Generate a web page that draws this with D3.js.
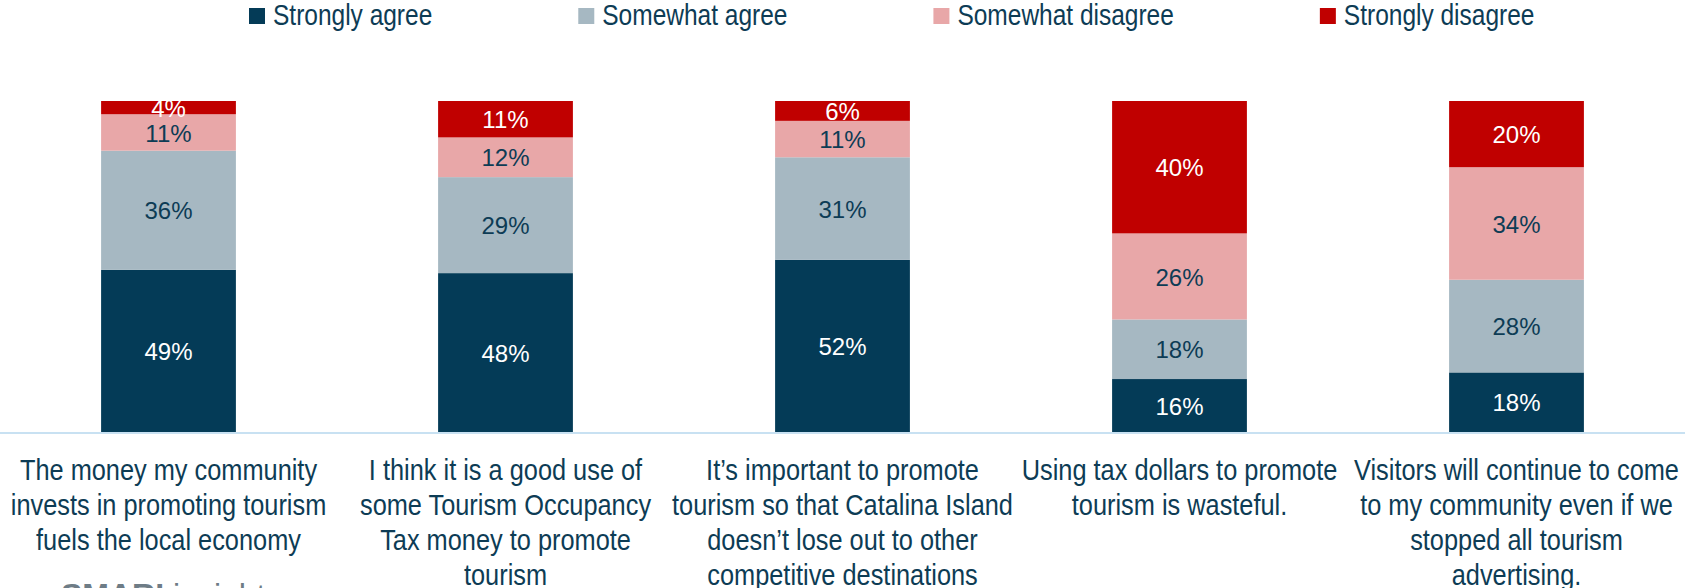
<!DOCTYPE html>
<html>
<head>
<meta charset="utf-8">
<script src="https://cdn.jsdelivr.net/npm/d3@7"></script>
<style>
  html, body { margin: 0; padding: 0; background: #ffffff; }
  svg { display: block; }
</style>
</head>
<body>
<svg id="chart" width="1685" height="588"></svg>
<script>
// Statements (one stacked bar each), wrapped into display lines
const categories = [
  ["The money my community", "invests in promoting tourism", "fuels the local economy"],
  ["I think it is a good use of", "some Tourism Occupancy", "Tax money to promote", "tourism"],
  ["It\u2019s important to promote", "tourism so that Catalina Island", "doesn\u2019t lose out to other", "competitive destinations"],
  ["Using tax dollars to promote", "tourism is wasteful."],
  ["Visitors will continue to come", "to my community even if we", "stopped all tourism", "advertising."]
];

const seriesNames = ["Strongly agree", "Somewhat agree", "Somewhat disagree", "Strongly disagree"];

// Percent of respondents per statement
const stronglyAgree    = [49, 48, 52, 16, 18];
const somewhatAgree    = [36, 29, 31, 18, 28];
const somewhatDisagree = [11, 12, 11, 26, 34];
const stronglyDisagree = [4, 11, 6, 40, 20];

const colors = ["#043b57", "#a6b8c2", "#e8a7a8", "#c00000"];
const labelColors = ["#ffffff", "#0d3c55", "#0d3c55", "#ffffff"];
const textColor = "#0d3c55";
const family = "'Liberation Sans', Arial, sans-serif";
const condense = 0.845; // horizontal squeeze for the narrow-style texts

const W = 1685;
const baseY = 432, topY = 101;

const svg = d3.select("#chart");

// Condensed text: drawn at the origin, then placed and squeezed horizontally
function narrowText(parent, x, y, size, str, anchor) {
  return parent.append("text")
    .attr("transform", `translate(${x},${y}) scale(${condense},1)`)
    .attr("text-anchor", anchor)
    .attr("font-family", family)
    .attr("font-size", size)
    .attr("fill", textColor)
    .text(str);
}

const rows = categories.map((c, i) => ({
  idx: i,
  "Strongly agree": stronglyAgree[i],
  "Somewhat agree": somewhatAgree[i],
  "Somewhat disagree": somewhatDisagree[i],
  "Strongly disagree": stronglyDisagree[i]
}));

const x = d3.scaleBand()
  .domain(d3.range(categories.length))
  .range([0, W])
  .paddingInner(0.6)
  .paddingOuter(0.3);

const y = d3.scaleLinear().domain([0, 100]).range([baseY, topY]);

const stacked = d3.stack().keys(seriesNames)(rows);

// Stacked segments
const layers = svg.append("g").selectAll("g")
  .data(stacked)
  .join("g")
  .attr("fill", (d, i) => colors[i]);

layers.selectAll("rect")
  .data(d => d)
  .join("rect")
  .attr("x", d => x(d.data.idx))
  .attr("width", x.bandwidth())
  .attr("y", d => y(d[1]))
  .attr("height", d => y(d[0]) - y(d[1]));

// Value labels centred in each segment
stacked.forEach((layer, li) => {
  svg.append("g").selectAll("text")
    .data(layer)
    .join("text")
    .attr("x", d => x(d.data.idx) + x.bandwidth() / 2)
    .attr("y", d => (y(d[0]) + y(d[1])) / 2)
    .attr("dy", "0.38em")
    .attr("text-anchor", "middle")
    .attr("font-family", family)
    .attr("font-size", 24)
    .attr("fill", labelColors[li])
    .text(d => (d[1] - d[0]) + "%");
});

// Baseline
svg.append("line")
  .attr("x1", 0).attr("x2", W)
  .attr("y1", baseY + 1).attr("y2", baseY + 1)
  .attr("stroke", "#c8e1f2")
  .attr("stroke-width", 2);

// Category labels below the bars
const catG = svg.append("g");
categories.forEach((lines, i) => {
  lines.forEach((ln, j) => {
    narrowText(catG, x(i) + x.bandwidth() / 2, 480 + j * 35, 30, ln, "middle");
  });
});

// Legend
const legend = svg.append("g");
let lx = 249;
seriesNames.forEach((name, i) => {
  legend.append("rect")
    .attr("x", lx).attr("y", 8)
    .attr("width", 16).attr("height", 16)
    .attr("fill", colors[i]);
  const t = narrowText(legend, lx + 24, 25, 29, name, "start");
  lx = lx + 24 + t.node().getComputedTextLength() * condense + 146;
});

// Brand mark at the bottom left
const brand = svg.append("text")
  .attr("x", 61).attr("y", 606)
  .attr("font-family", family)
  .attr("font-size", 32)
  .attr("fill", "#6e7c86");
brand.append("tspan").attr("font-weight", "bold").text("SMARI");
brand.append("tspan").text(" insights");
</script>
</body>
</html>
